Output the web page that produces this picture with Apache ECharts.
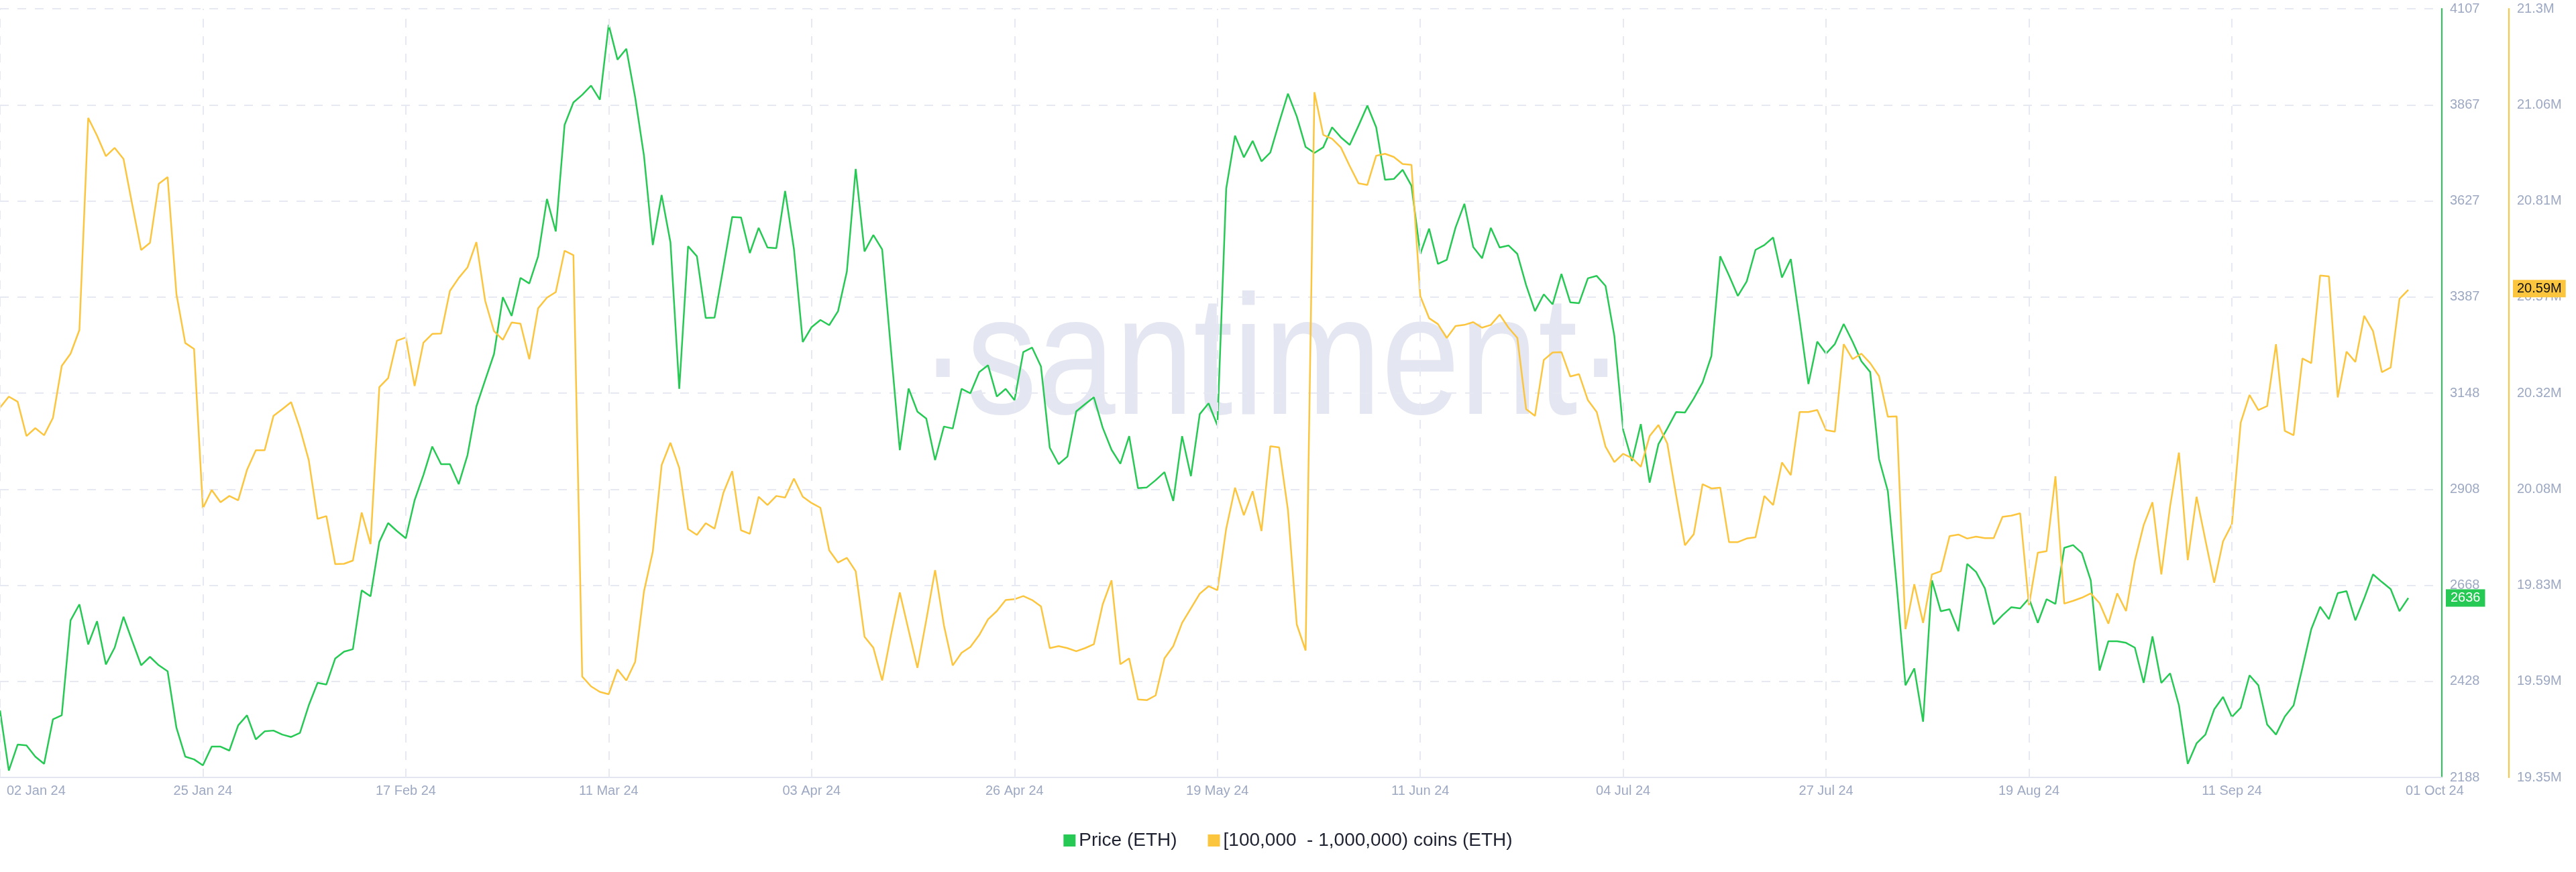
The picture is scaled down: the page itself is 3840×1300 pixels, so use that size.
<!DOCTYPE html>
<html>
<head>
<meta charset="utf-8">
<script src="https://cdn.jsdelivr.net/npm/echarts@6/dist/echarts.min.js"></script>
<style>
html,body{margin:0;padding:0;background:#fff;}
#chart{width:3840px;height:1300px;}
</style>
</head>
<body>
<div id="chart"></div>
<script>
// Daily values, 02 Jan 2024 (day 0) .. 01 Oct 2024 (day 273)
const price = [
2355,2205,2270,2268,2240,2222,2333,2343,2580,2620,
2520,2578,2470,2512,2589,2528,2468,2489,2468,2453,
2312,2240,2233,2218,2265,2265,2255,2318,2343,2283,
2303,2305,2295,2289,2299,2368,2424,2420,2485,2502,
2508,2655,2640,2776,2823,2803,2785,2880,2943,3014,
2970,2970,2920,2993,3114,3180,3245,3387,3340,3435,
3421,3489,3632,3551,3817,3873,3892,3915,3880,4067,
3980,4007,3886,3740,3517,3642,3524,3158,3514,3489,
3335,3336,3461,3587,3586,3497,3560,3511,3509,3652,
3507,3275,3312,3330,3317,3352,3451,3707,3501,3542,
3506,3255,3005,3159,3101,3084,2980,3064,3059,3158,
3147,3200,3217,3139,3158,3130,3250,3261,3214,3011,
2970,2989,3102,3120,3137,3061,3006,2971,3040,2910,
2912,2930,2950,2878,3040,2940,3095,3122,3067,3658,
3790,3736,3777,3726,3748,3823,3895,3838,3762,3747,
3761,3811,3786,3767,3815,3865,3811,3680,3682,3705,
3665,3495,3558,3470,3480,3561,3620,3512,3484,3560,
3511,3516,3495,3417,3352,3394,3369,3445,3374,3372,
3434,3440,3415,3290,3055,2978,3070,2924,3020,3059,
3100,3099,3134,3174,3240,3489,3441,3390,3426,3505,
3517,3536,3436,3482,3330,3170,3276,3246,3270,3320,
3276,3227,3200,2983,2903,2668,2418,2460,2327,2680,
2603,2608,2553,2721,2701,2660,2570,2593,2613,2610,
2635,2574,2633,2621,2761,2768,2748,2680,2455,2528,
2528,2524,2512,2424,2540,2424,2448,2368,2222,2273,
2295,2358,2389,2339,2362,2443,2418,2320,2295,2340,
2368,2462,2558,2614,2583,2648,2653,2580,2635,2695,
2676,2658,2603,2636
];
// [100,000 - 1,000,000) coins holders' balance, millions of ETH
const whaleBalance = [
20.288,20.316,20.303,20.216,20.236,20.218,20.262,20.394,20.425,20.485,
21.023,20.978,20.926,20.947,20.919,20.802,20.688,20.706,20.856,20.873,
20.576,20.452,20.437,20.033,20.079,20.048,20.064,20.053,20.130,20.180,
20.180,20.267,20.284,20.302,20.236,20.155,20.006,20.013,19.891,19.892,
19.900,20.022,19.942,20.340,20.363,20.458,20.466,20.343,20.453,20.475,
20.476,20.584,20.617,20.644,20.708,20.559,20.482,20.460,20.504,20.501,
20.411,20.540,20.567,20.581,20.686,20.675,19.606,19.581,19.567,19.561,
19.624,19.596,19.643,19.822,19.923,20.142,20.199,20.135,19.980,19.965,
19.995,19.981,20.072,20.127,19.977,19.968,20.062,20.041,20.064,20.060,
20.108,20.062,20.046,20.034,19.926,19.895,19.907,19.873,19.707,19.679,
19.596,19.711,19.819,19.723,19.628,19.749,19.876,19.736,19.634,19.666,
19.681,19.711,19.751,19.772,19.800,19.802,19.810,19.800,19.784,19.678,
19.683,19.678,19.670,19.678,19.688,19.789,19.850,19.637,19.652,19.548,
19.546,19.558,19.652,19.683,19.742,19.779,19.816,19.835,19.825,19.981,
20.085,20.015,20.076,19.975,20.190,20.187,20.028,19.738,19.672,21.088,
20.980,20.970,20.948,20.901,20.857,20.853,20.927,20.932,20.924,20.906,
20.904,20.571,20.515,20.500,20.465,20.495,20.498,20.505,20.491,20.498,
20.524,20.491,20.465,20.284,20.267,20.409,20.428,20.429,20.367,20.373,
20.307,20.277,20.189,20.150,20.171,20.160,20.138,20.216,20.244,20.197,
20.066,19.939,19.967,20.094,20.083,20.085,19.947,19.947,19.956,19.959,
20.064,20.041,20.149,20.117,20.277,20.277,20.282,20.231,20.227,20.449,
20.411,20.425,20.401,20.368,20.265,20.266,19.726,19.840,19.742,19.865,
19.873,19.962,19.966,19.956,19.961,19.957,19.957,20.011,20.014,20.020,
19.787,19.920,19.924,20.114,19.791,19.798,19.806,19.817,19.792,19.740,
19.817,19.772,19.899,19.990,20.048,19.865,20.038,20.174,19.901,20.062,
19.952,19.844,19.949,19.992,20.250,20.320,20.282,20.292,20.449,20.229,
20.218,20.413,20.401,20.623,20.621,20.314,20.430,20.404,20.521,20.482,
20.378,20.390,20.564,20.587
];
const xTickLabels = ['02 Jan 24','25 Jan 24','17 Feb 24','11 Mar 24','03 Apr 24','26 Apr 24','19 May 24','11 Jun 24','04 Jul 24','27 Jul 24','19 Aug 24','11 Sep 24','01 Oct 24'];
const priceTicks = ['2188','2428','2668','2908','3148','3387','3627','3867','4107'];
const whaleTicks = ['19.35M','19.59M','19.83M','20.08M','20.32M','20.57M','20.81M','21.06M','21.3M'];
const seriesNames = ['Price (ETH)', '[100,000  - 1,000,000) coins (ETH)'];

const GREEN = '#26c953', YELLOW = '#fcc53e', LABEL = '#9da8c2', GRID = '#e6e8f2';
const X_STEP = 23, X_MAX = 276.8;
const P_MIN = 2188, P_MAX = 4107, P_INT = (P_MAX - P_MIN) / 8;
const W_MIN = 19.35, W_MAX = 21.3, W_INT = (W_MAX - W_MIN) / 8;

const chart = echarts.init(document.getElementById('chart'), null, {renderer: 'canvas'});
const lastP = price[price.length - 1];
const lastW = whaleBalance[whaleBalance.length - 1];
// vertical dashed grid lines at the date ticks (the last date label has none)
const verticalGrid = xTickLabels.slice(0, -1).map((_, k) => ({xAxis: k * X_STEP}));

chart.setOption({
  animation: false,
  backgroundColor: '#ffffff',
  textStyle: {fontFamily: '"Liberation Sans", Arial, sans-serif'},
  graphic: [{
    type: 'text', x: 1896, y: 547, scaleY: 1.21, z: 0, silent: true,
    style: {
      text: '\u00B7santiment\u00B7',
      font: 'normal 210px "Liberation Sans", Arial, sans-serif',
      fill: '#e4e6f1', textAlign: 'center', textVerticalAlign: 'middle',
      align: 'center', verticalAlign: 'middle'
    }
  }],
  grid: {left: 0, right: 200, top: 13, bottom: 141, containLabel: false, outerBoundsMode: 'none'},
  legend: {
    top: 1234, left: 'center', icon: 'rect', itemWidth: 18, itemHeight: 18, itemGap: 46,
    textStyle: {fontSize: 28, color: '#1f2230'},
    data: seriesNames
  },
  xAxis: {
    type: 'value', min: 0, max: X_MAX, interval: X_STEP,
    axisLine: {show: true, onZero: false, lineStyle: {color: '#e3e6f1', width: 2}},
    axisTick: {show: false},
    splitLine: {show: false},
    axisLabel: {
      color: LABEL, fontSize: 20, margin: 10, alignMinLabel: 'left', showMaxLabel: true,
      formatter: v => {
        const k = Math.round(v / X_STEP);
        if (Math.abs(v - k * X_STEP) > 1e-6) return '';
        const t = xTickLabels[k] || '';
        return k === 0 ? '{first|' + t + '}' : t;
      },
      rich: {first: {padding: [0, 0, 0, 10], color: LABEL, fontSize: 20}}
    }
  },
  yAxis: [{
    type: 'value', position: 'right', min: P_MIN, max: P_MAX, interval: P_INT,
    axisLine: {show: true, onZero: false, lineStyle: {color: GREEN, width: 2}},
    axisTick: {show: false},
    splitLine: {show: true, lineStyle: {color: GRID, width: 2, type: [13, 13]}},
    axisLabel: {color: LABEL, fontSize: 20, margin: 12,
      formatter: v => priceTicks[Math.round((v - P_MIN) / P_INT)] || ''}
  }, {
    type: 'value', position: 'right', offset: 100, min: W_MIN, max: W_MAX, interval: W_INT,
    axisLine: {show: true, onZero: false, lineStyle: {color: YELLOW, width: 2}},
    axisTick: {show: false},
    splitLine: {show: false},
    axisLabel: {color: LABEL, fontSize: 20, margin: 12,
      formatter: v => whaleTicks[Math.round((v - W_MIN) / W_INT)] || ''}
  }],
  series: [{
    name: 'grid', type: 'line', yAxisIndex: 0, data: [], z: 1, silent: true,
    markLine: {
      silent: true, symbol: ['none', 'none'], animation: false,
      label: {show: false}, emphasis: {disabled: true},
      lineStyle: {color: GRID, width: 2, type: [13, 13]},
      data: verticalGrid
    }
  }, {
    name: seriesNames[0], type: 'line', yAxisIndex: 0, showSymbol: false, symbol: 'none',
    color: GREEN, lineStyle: {color: GREEN, width: 2.5}, z: 3,
    data: price.map((v, i) => [i, v]),
    markLine: {
      silent: true, symbol: ['none', 'none'], animation: false,
      lineStyle: {color: 'rgba(0,0,0,0)', width: 0, type: 'solid'},
      emphasis: {disabled: true},
      label: {show: true, position: 'end', distance: 6, formatter: () => String(lastP),
        backgroundColor: GREEN, color: '#ffffff', fontSize: 20, padding: [3, 7, 3, 7]},
      data: [{yAxis: lastP}]
    }
  }, {
    name: seriesNames[1], type: 'line', yAxisIndex: 1, showSymbol: false, symbol: 'none',
    color: YELLOW, lineStyle: {color: YELLOW, width: 2.5}, z: 4,
    data: whaleBalance.map((v, i) => [i, v]),
    markLine: {
      silent: true, symbol: ['none', 'none'], animation: false,
      lineStyle: {color: 'rgba(0,0,0,0)', width: 0, type: 'solid'},
      emphasis: {disabled: true},
      label: {show: true, position: 'end', distance: 106, formatter: () => lastW.toFixed(2) + 'M',
        backgroundColor: YELLOW, color: '#111111', fontSize: 20, padding: [3, 6, 3, 6]},
      data: [{yAxis: lastW}]
    }
  }]
});
</script>
</body>
</html>
